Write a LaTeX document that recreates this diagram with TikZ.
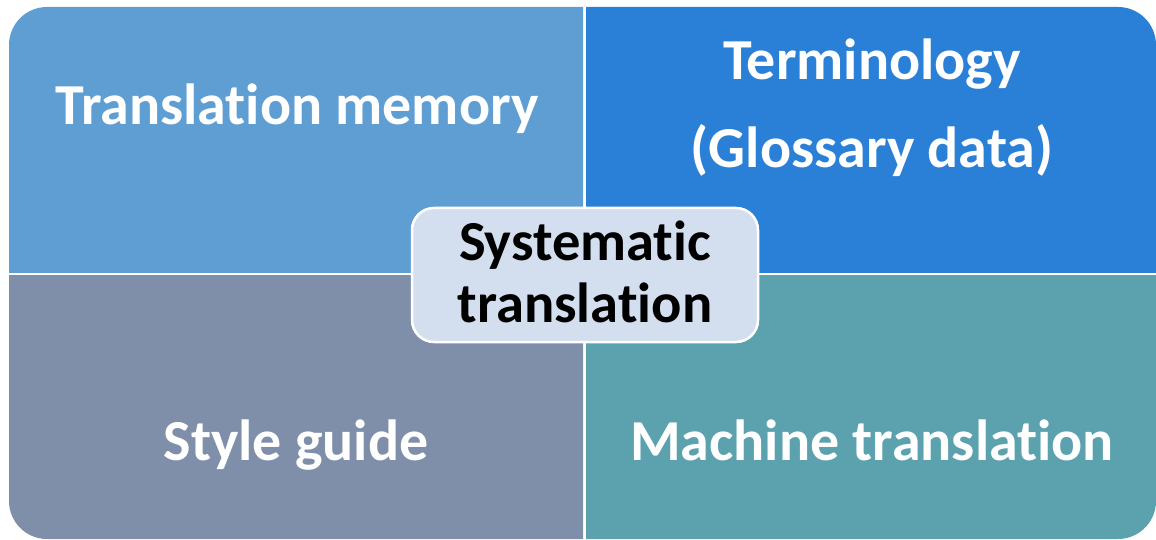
\documentclass[tikz,border=0pt]{standalone}
\usepackage{fontspec}
\setmainfont{Carlito}[Ligatures={NoCommon,NoRare,NoContextual}]
% keeps "t" and "i" as two separate glyphs
\newcommand\tsepi{t\kern0pt i}
\definecolor{tlfill}{RGB}{95,158,210}
\definecolor{trfill}{RGB}{42,127,215}
\definecolor{blfill}{RGB}{128,143,169}
\definecolor{brfill}{RGB}{91,162,174}
\definecolor{hubfill}{RGB}{211,222,238}
\tikzset{
  x=1pt, y=1pt,
  quadlabel/.style={text=white, font=\fontsize{58}{62}\selectfont\bfseries, anchor=base, inner sep=0pt},
  hublabel/.style={text=black, font=\fontsize{56.5}{62}\selectfont\bfseries, anchor=base, inner sep=0pt},
  hubbox/.style={fill=hubfill, draw=white, line width=2.5pt, rounded corners=22pt}
}
\begin{document}
\begin{tikzpicture}
\useasboundingbox (0,0) rectangle (1156,539);
% four quadrants sharing one rounded outer outline
\begin{scope}
  \clip (9,267) rectangle (583,532);
  \fill[tlfill, rounded corners=38pt] (9,0) rectangle (1156,532);
\end{scope}
\begin{scope}
  \clip (586,267) rectangle (1156,532);
  \fill[trfill, rounded corners=38pt] (9,0) rectangle (1156,532);
\end{scope}
\begin{scope}
  \clip (9,0) rectangle (583,264);
  \fill[blfill, rounded corners=38pt] (9,0) rectangle (1156,532);
\end{scope}
\begin{scope}
  \clip (586,0) rectangle (1156,264);
  \fill[brfill, rounded corners=38pt] (9,0) rectangle (1156,532);
\end{scope}
% quadrant labels
\node[quadlabel] (tm) at (297,414) {Transla\tsepi on memory};
\node[quadlabel] (term) at (872,459) {Terminology};
\node[quadlabel] (gloss) at (872,371) {(Glossary data)};
\node[quadlabel] (style) at (296,79) {Style guide};
\node[quadlabel] (mt) at (872,79) {Machine transla\tsepi on};
% central hub
\draw[hubbox] (412,197) rectangle (758,331);
\node[hublabel] (sys) at (585,279) {Systema\tsepi c};
\node[hublabel] (trans) at (585,217) {transla\tsepi on};
\end{tikzpicture}
\end{document}
